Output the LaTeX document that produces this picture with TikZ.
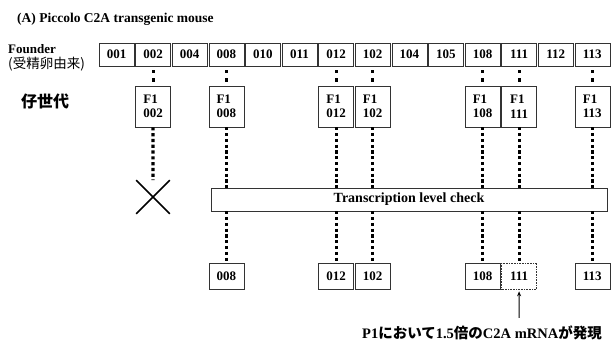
\documentclass[tikz,border=0pt]{standalone}
\usepackage{fontspec}
\setmainfont{Liberation Serif}
\newfontfamily\cjk{Noto Sans CJK JP}
\usetikzlibrary{shapes.misc,arrows.meta}

\tikzset{
  idbox/.style={draw=black!80,line width=0.6pt,fill=white,minimum width=35pt,
    inner sep=0pt,font=\bfseries\fontsize{13}{14.5}\selectfont},
  founder/.style={idbox,minimum height=23pt},
  offspring/.style={idbox,minimum height=41pt,align=left},
  survivor/.style={idbox,minimum height=26pt},
  link/.style={line width=3.2pt,dash pattern=on 3.2pt off 5pt,shorten <=4pt,shorten >=4pt},
  chain/.style={line width=3.2pt,dash pattern=on 3.2pt off 2.6pt},
}

\begin{document}
\begin{tikzpicture}[x=1pt,y=-1pt]
  \useasboundingbox (0,0) rectangle (611,344);
  \node[anchor=west,inner sep=0pt,font=\bfseries\fontsize{13.5}{15}\selectfont] (title) at (17,19) {(A) Piccolo C2A transgenic mouse};
  \node[anchor=west,align=left,inner sep=0pt,font=\bfseries\fontsize{13}{15}\selectfont] (founderlbl) at (8,58)
    {Founder\\{\cjk\mdseries\fontsize{13.5}{15}\selectfont (受精卵由来)}};
  \node[anchor=west,inner sep=0pt,font=\cjk\bfseries\fontsize{16}{18}\selectfont] (kidlbl) at (21,101.5) {仔世代};

  \foreach \id [count=\i] in {001,002,004,008,010,011,012,102,104,105,108,111,112,113}
    \node[founder] (f\id) at ({116.5+36.6*(\i-1)},54.5) {\id};

  \coordinate (rowA) at (0,106.5);
  \coordinate (rowB) at (0,276);
  \foreach \id in {002,008,012,102,108,111,113} {
    \node[offspring] (g\id) at (f\id |- rowA) {F1\\\id};
    \draw[link] (f\id) -- (g\id);
  }

  \node[draw=black!80,line width=0.6pt,minimum width=396pt,minimum height=23pt,inner sep=0pt,
    font=\bfseries\fontsize{14}{15}\selectfont] (check) at (409,199.5) {Transcription level check};
  \node[cross out,draw,line width=1.6pt,minimum size=32pt,inner sep=0pt] (drop) at (153,197) {};
  \draw[chain] (g002) -- (drop);

  \foreach \id in {008,012,102,108,111,113}
    \draw[chain] (g\id) -- (g\id |- check.north);
  \foreach \id in {008,012,102,108,113}
    \node[survivor] (p\id) at (f\id |- rowB) {\id};
  \node[survivor,densely dotted] (p111) at (f111 |- rowB) {111};
  \foreach \id in {008,012,102,108,111,113}
    \draw[chain] (p\id |- check.south) -- (p\id);

  \coordinate (tail) at (519.1,318);
  \draw[-{Stealth[length=5pt,width=4pt]},line width=0.9pt,shorten >=2pt] (tail) -- (p111);
  \node[inner sep=0pt,font=\bfseries\fontsize{14.5}{16}\selectfont] (result) at (482,333)
    {P1{\cjk において}1.5{\cjk 倍の}C2A mRNA{\cjk が発現}};
\end{tikzpicture}
\end{document}
